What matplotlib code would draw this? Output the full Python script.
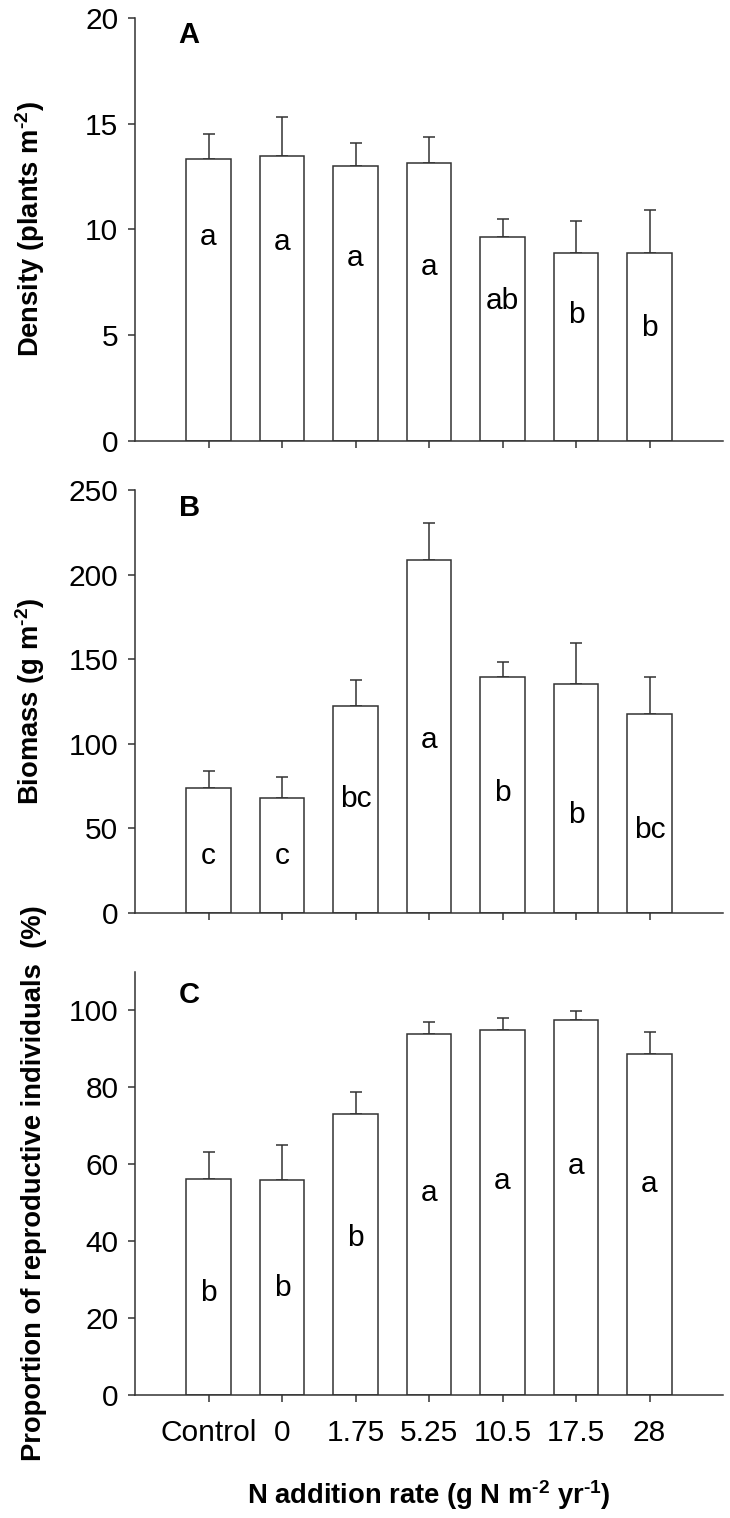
import matplotlib.pyplot as plt

plt.rcParams['font.family'] = ['Liberation Sans', 'DejaVu Sans']
plt.rcParams['mathtext.fontset'] = 'custom'
plt.rcParams['mathtext.rm'] = 'Liberation Sans:bold'
plt.rcParams['mathtext.bf'] = 'Liberation Sans:bold'

groups = ['Control', '0', '1.75', '5.25', '10.5', '17.5', '28']

density = [13.33, 13.46, 13.0, 13.13, 9.66, 8.89, 8.89]
density_top = [14.5, 15.32, 14.1, 14.36, 10.51, 10.42, 10.9]
density_letters = ['a', 'a', 'a', 'a', 'ab', 'b', 'b']
density_letter_y = [9.65, 9.4, 8.65, 8.23, 6.6, 5.96, 5.34]

biomass = [73.6, 67.7, 122.3, 208.4, 139.5, 135.1, 117.4]
biomass_top = [84.1, 80.4, 137.7, 230.3, 148.1, 159.3, 139.2]
biomass_letters = ['c', 'c', 'bc', 'a', 'b', 'b', 'bc']
biomass_letter_y = [33.5, 33.5, 67.6, 102.4, 70.9, 58.1, 49.2]

repro = [56.3, 56.0, 73.0, 93.8, 94.8, 97.5, 88.8]
repro_top = [63.2, 64.9, 78.7, 97.0, 98.1, 99.9, 94.4]
repro_letters = ['b', 'b', 'b', 'a', 'a', 'a', 'a']
repro_letter_y = [26.5, 27.8, 40.8, 52.5, 55.6, 59.6, 54.8]

W, H = 730, 1518
fig = plt.figure(figsize=(7.3, 15.18), dpi=100)

ec = '#333333'
lw = 1.1
fs = 21.5
lab_fs = 19.7

def panel(top_px, bottom_px, vals, tops, letters, ly, ylim, yticks, ylabel, tag, tag_y, last=False):
    ax = fig.add_axes([135 / W, 1 - bottom_px / H, 588 / W, (bottom_px - top_px) / H])
    x = list(range(len(vals)))
    errs = [t - v for t, v in zip(tops, vals)]
    ax.bar(x, vals, width=0.6, color='white', edgecolor=ec, linewidth=lw, zorder=2)
    ax.errorbar(x, vals, yerr=[[0] * len(vals), errs], fmt='none', ecolor=ec,
                elinewidth=lw, capsize=4, capthick=lw, zorder=1)
    for xi, lab, yy in zip(x, letters, ly):
        ax.text(xi, yy, lab, ha='center', va='center', fontsize=fs, zorder=3)
    ax.set_xlim(-1, 7)
    ax.set_ylim(*ylim)
    ax.set_yticks(yticks)
    ax.set_xticks(x)
    if last:
        ax.set_xticklabels(groups)
        ax.set_xlabel(r'N addition rate (g N m$^{\text{-2}}$ yr$^{\text{-1}}$)',
                      fontsize=lab_fs, fontweight='bold')
        ax.xaxis.set_label_coords(0.5, -0.197)
    else:
        ax.set_xticklabels([])
    ax.set_ylabel(ylabel, fontsize=lab_fs, fontweight='bold')
    ax.yaxis.set_label_coords(-0.15, 0.5)
    for s in ['top', 'right']:
        ax.spines[s].set_visible(False)
    for s in ['left', 'bottom']:
        ax.spines[s].set_color(ec)
        ax.spines[s].set_linewidth(lw)
    ax.tick_params(direction='out', length=5, width=lw, color=ec, labelsize=fs)
    ax.tick_params(axis='x', pad=12)
    ax.tick_params(axis='y', pad=7)
    ax.text(0.092, tag_y, tag, transform=ax.transAxes, ha='center', va='center',
            fontsize=21, fontweight='bold')
    return ax

panel(18, 441, density, density_top, density_letters, density_letter_y,
      (0, 20), [0, 5, 10, 15, 20], r'Density (plants m$^{\text{-2}}$)', 'A', 0.96)
panel(490, 913, biomass, biomass_top, biomass_letters, biomass_letter_y,
      (0, 250), [0, 50, 100, 150, 200, 250], r'Biomass (g m$^{\text{-2}}$)', 'B', 0.957)
panel(972, 1395, repro, repro_top, repro_letters, repro_letter_y,
      (0, 110), [0, 20, 40, 60, 80, 100], 'Proportion of reproductive individuals  (%)',
      'C', 0.946, last=True)

fig.savefig('out.png', dpi=100)
